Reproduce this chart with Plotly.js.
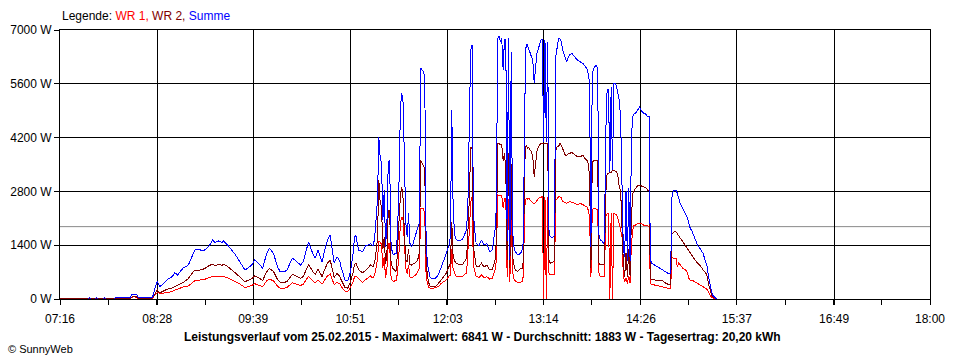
<!DOCTYPE html>
<html>
<head>
<meta charset="utf-8">
<script src="https://cdn.plot.ly/plotly-3.0.1.min.js"></script>
<style>
html,body{margin:0;padding:0;background:#fff;}
#chart{width:960px;height:360px;}
#chart .scatterlayer path.js-line{shape-rendering:crispEdges;}
</style>
</head>
<body>
<div id="chart"></div>
<script>
// ---- data ----
const zeit = [
"07:16","07:37","07:38","07:39","07:42","07:43","07:44","07:48","07:49","07:50",
"07:56","07:57","08:08","08:09","08:11","08:13","08:14","08:24","08:25","08:26",
"08:28","08:30","08:32","08:35","08:39","08:41","08:43","08:47","08:51","08:54",
"08:56","09:00","09:03","09:06","09:09","09:11","09:13","09:16","09:17","09:20",
"09:23","09:26","09:29","09:33","09:35","09:38","09:40","09:43","09:46","09:49",
"09:51","09:54","09:57","09:59","10:02","10:04","10:08","10:10","10:14","10:16",
"10:19","10:20","10:23","10:25","10:27","10:30","10:32","10:34","10:36","10:37",
"10:39","10:41","10:43","10:44","10:46","10:47","10:49","10:51","10:53","10:54",
"10:55","10:57","11:00","11:02","11:04","11:06","11:07","11:08","11:09","11:10",
"11:11","11:12","11:13","11:14","11:15","11:16","11:17","11:18","11:19","11:20",
"11:21","11:22","11:23","11:24","11:25","11:26","11:27","11:28","11:29","11:30",
"11:31","11:32","11:33","11:34","11:35","11:36","11:37","11:38","11:39","11:40",
"11:41","11:42","11:43","11:44","11:45","11:46","11:47","11:48","11:49","11:50",
"11:52","11:54","11:56","11:58","12:00","12:02","12:04","12:05","12:06","12:07",
"12:08","12:09","12:10","12:12","12:14","12:16","12:17","12:18","12:19","12:20",
"12:21","12:22","12:23","12:24","12:26","12:28","12:30","12:32","12:34","12:36",
"12:38","12:39","12:40","12:41","12:42","12:43","12:44","12:45","12:46","12:47",
"12:48","12:49","12:50","12:51","12:52","12:53","12:55","12:57","12:58","12:59",
"13:00","13:01","13:02","13:03","13:04","13:05","13:06","13:07","13:08","13:09",
"13:10","13:11","13:12","13:13","13:14","13:15","13:16","13:17","13:18","13:19",
"13:20","13:21","13:22","13:23","13:24","13:25","13:26","13:27","13:28","13:29",
"13:30","13:31","13:33","13:35","13:37","13:39","13:41","13:43","13:45","13:46",
"13:47","13:48","13:49","13:50","13:51","13:52","13:53","13:54","13:55","13:56",
"13:57","13:58","13:59","14:00","14:01","14:02","14:03","14:04","14:05","14:06",
"14:07","14:08","14:09","14:10","14:11","14:12","14:13","14:14","14:15","14:16",
"14:17","14:18","14:19","14:20","14:21","14:22","14:23","14:24","14:25","14:26",
"14:27","14:28","14:29","14:30","14:31","14:32","14:33","14:34","14:36","14:38",
"14:40","14:42","14:44","14:46","14:47","14:48","14:49","14:50","14:51","14:52",
"14:53","14:54","14:55","14:57","14:59","15:00","15:01","15:02","15:04","15:06",
"15:08","15:10","15:12","15:14","15:15","15:16","15:17","15:18","15:19","15:21",
"15:22","18:00"
];

const wr1 = [
0,0,0,0,0,0,0,0,0,0,
0,10,10,40,60,40,10,10,40,100,
165,150,150,170,190,230,260,310,340,440,
480,495,510,550,590,585,590,575,590,550,
505,450,390,300,320,350,400,370,320,470,
520,470,335,280,280,300,420,400,350,385,
540,590,470,420,500,385,500,600,650,570,
370,430,400,330,220,200,190,300,450,580,
600,520,425,500,560,600,560,560,645,815,
1015,1500,1480,1420,820,1100,540,790,1430,1440,
600,475,460,475,475,760,1240,2000,2140,2040,
1420,790,650,890,580,545,560,600,620,650,
720,800,2360,2360,2360,2200,600,400,300,280,
280,300,320,400,450,495,600,625,1300,760,
700,600,580,580,590,650,680,1275,1750,2520,
2650,870,755,590,560,620,550,580,520,530,
755,1000,2705,2705,2690,2680,2360,2620,2620,580,
2600,450,2300,700,520,470,430,440,450,600,
2400,2620,2600,2620,2580,2530,2500,2490,2500,2560,
2620,2640,2660,2660,0,2660,0,2660,650,625,
640,640,650,2600,2600,2660,2660,2640,2550,2520,
2500,2490,2530,2520,2490,2450,2490,2450,2420,2400,
2315,2140,560,2315,2360,2360,2330,2330,670,580,
580,580,580,2140,2230,2230,0,2230,0,2230,
2200,2190,2100,1970,1800,1620,580,450,550,400,
600,420,1450,1795,1925,1925,1950,1970,1970,1970,
1950,1925,1925,1900,1900,1880,410,380,365,345,
320,300,290,280,280,280,1100,1060,1060,1060,
830,930,900,800,760,720,600,495,490,440,
390,360,320,285,250,180,100,60,30,10,
0,0
];

const wr2 = [
0,0,0,0,0,0,0,0,0,0,
0,15,15,50,60,50,20,15,50,120,
235,160,200,250,290,330,360,425,530,680,
750,755,790,860,910,870,900,880,900,850,
760,690,580,450,490,530,600,560,480,710,
790,720,505,430,430,455,640,615,535,585,
820,900,720,640,775,585,775,935,1015,880,
560,670,600,510,340,300,280,450,700,900,
940,760,680,750,800,900,850,840,975,1240,
1560,3100,2500,2400,1300,1600,900,1200,2315,2300,
1000,800,780,720,750,1400,2230,2700,2900,2600,
1620,1000,970,1300,900,880,900,930,950,970,
1050,1200,3615,3550,3490,3400,1000,580,420,320,
320,330,400,495,600,675,850,930,2010,1100,
1000,940,930,885,900,1000,1060,1800,2600,3960,
3900,1360,1100,860,840,930,830,885,760,760,
1015,1500,4050,4050,4010,4010,3600,3790,3355,1015,
3800,800,3500,1100,900,755,720,800,780,1000,
3530,4005,3920,3950,3880,3830,3700,3180,3500,3830,
3960,4010,4050,4050,4050,4050,4050,4050,950,935,
960,960,1000,3875,3960,3960,4050,4005,3920,3830,
3745,3745,3790,3810,3745,3700,3700,3745,3640,3615,
3530,3200,800,3530,3615,3615,3615,3600,930,885,
885,885,930,2750,3270,3270,3300,3300,3355,3355,
3330,3310,3180,2900,2835,1710,930,580,1200,580,
1300,600,2140,2750,2835,2880,2920,2965,2965,2965,
2920,2920,2900,2880,2835,2835,560,495,495,495,
490,481,420,380,365,365,1710,1725,1750,1750,
1700,1620,1580,1490,1380,1330,1280,1230,1120,1020,
930,870,755,680,600,400,250,150,60,15,
0,0
];

const summe = [
0,0,40,0,0,40,0,0,40,0,
0,30,30,110,130,100,40,30,100,250,
450,330,380,495,580,685,625,800,885,1120,
1290,1275,1275,1360,1535,1465,1515,1465,1515,1405,
1275,1145,970,755,800,885,1015,930,800,1190,
1320,1190,840,710,710,755,1060,1015,885,970,
1360,1490,1190,1060,1275,970,1275,1535,1665,1450,
930,1100,1000,840,560,495,480,700,1200,1620,
1650,1275,1230,1380,1400,1450,1400,1400,1620,2055,
2575,4215,3700,3540,2050,2835,1360,1970,3570,3600,
1500,1190,1150,1190,1190,1900,3100,5000,5350,5090,
3540,1970,1620,2230,1450,1360,1400,1535,1620,1750,
1880,1970,6010,5960,5915,5785,1500,900,700,560,
520,545,625,800,970,1190,1400,1620,4920,2400,
1710,1560,1535,1510,1560,1700,1800,2575,4350,6480,
6610,2230,1800,1450,1380,1535,1405,1450,1230,1275,
1795,2400,6780,6841,6700,6780,5960,6750,6750,1500,
6780,1015,6435,1795,1360,1230,1145,1190,1275,1500,
5000,6610,6610,6500,6390,6300,6200,5620,6000,6390,
6500,6650,6740,6740,4090,6740,4090,6700,1700,1620,
1600,1620,1650,6300,6600,6780,6780,6700,6500,6390,
6300,6175,6350,6390,6300,6220,6175,6130,6045,6000,
5870,5610,1360,5870,6000,6045,6090,6000,1620,1535,
1535,1450,1500,4320,5440,5440,3300,5525,3355,5610,
5610,5525,5350,5180,4700,2750,1275,1100,2800,1000,
2900,1000,4225,4745,4830,4830,4880,4935,4990,4920,
4880,4830,4830,4790,4745,4745,1015,930,885,840,
800,755,710,670,650,660,2660,2835,2835,2835,
2750,2600,2490,2360,2230,2140,2055,1880,1750,1580,
1400,1300,1190,960,850,600,380,235,105,25,
0,0
];

const xTickLabels = ["07:16","08:28","09:39","10:51","12:03","13:14","14:26","15:37","16:49","18:00"];
const yTickValues = [0,1400,2800,4200,5600,7000];
const durchschnitt = 1883;
const legendeText = 'Legende: <span style="color:#ff0000">WR 1,</span> <span style="color:#800000">WR 2,</span> <span style="color:#0000ff">Summe</span>';
const titelText = "Leistungsverlauf vom 25.02.2015 - Maximalwert: 6841 W - Durchschnitt: 1883 W - Tagesertrag: 20,20 kWh";
const copyText = "© SunnyWeb";

// ---- build ----
function toMin(s){ const p = s.split(':'); return Number(p[0])*60 + Number(p[1]); }
const xs = zeit.map(toMin);
const xTickVals = xTickLabels.map(toMin);
const xMin = xTickVals[0], xMax = xTickVals[xTickVals.length-1];

const FONT = 'Liberation Sans, Arial, Helvetica, sans-serif';

const traces = [
  {type:'scatter', mode:'lines', x:xs, y:wr1, name:'WR 1', line:{color:'#ff0000', width:1}},
  {type:'scatter', mode:'lines', x:xs, y:wr2, name:'WR 2', line:{color:'#800000', width:1}},
  {type:'scatter', mode:'lines', x:xs, y:summe, name:'Summe', line:{color:'#0000ff', width:1}}
];

const layout = {
  width:960, height:360,
  margin:{l:60, r:30, t:30, b:61, pad:0},
  paper_bgcolor:'#ffffff', plot_bgcolor:'#ffffff',
  showlegend:false,
  font:{family:FONT, size:12, color:'#000000'},
  xaxis:{
    range:[xMin, xMax], tickmode:'array', tickvals:xTickVals, ticktext:xTickLabels,
    showgrid:true, gridcolor:'#000000', gridwidth:1,
    showline:true, linecolor:'#000000', linewidth:1, mirror:true,
    ticks:'outside', ticklen:5, tickwidth:1, tickcolor:'#000000',
    zeroline:false, ticklabelstandoff:4,
    tickfont:{family:FONT, size:12, color:'#000000'},
    minor:{tickmode:'linear', tick0:xMin, dtick:(xMax-xMin)/18, ticks:'outside', ticklen:5, tickwidth:1, tickcolor:'#000000', showgrid:false}
  },
  yaxis:{
    range:[0, 7000], tickmode:'array', tickvals:yTickValues, ticktext:yTickValues.map(v => v + ' W'),
    showgrid:true, gridcolor:'#000000', gridwidth:1,
    showline:true, linecolor:'#000000', linewidth:1, mirror:true,
    ticks:'outside', ticklen:5, tickwidth:1, tickcolor:'#000000',
    zeroline:false,
    tickfont:{family:FONT, size:12, color:'#000000'}
  },
  shapes:[
    {type:'line', xref:'paper', x0:0, x1:1, yref:'y', y0:durchschnitt, y1:durchschnitt,
     line:{color:'#8a8a8a', width:1}, layer:'between'}
  ],
  annotations:[
    {text:legendeText, xref:'paper', yref:'paper', x:0, y:1 + 14/269, xanchor:'left', yanchor:'middle',
     showarrow:false, font:{family:FONT, size:12, color:'#000000'}},
    {text:'<b>' + titelText + '</b>', xref:'paper', yref:'paper', x:(482-60)/870, y:-38/269, xanchor:'center', yanchor:'middle',
     showarrow:false, font:{family:FONT, size:12, color:'#000000'}},
    {text:copyText, xref:'paper', yref:'paper', x:(6-60)/870, y:-50/269, xanchor:'left', yanchor:'middle',
     showarrow:false, font:{family:FONT, size:11, color:'#000000'}}
  ]
};

Plotly.newPlot('chart', traces, layout, {displayModeBar:false, staticPlot:true});
</script>
</body>
</html>
